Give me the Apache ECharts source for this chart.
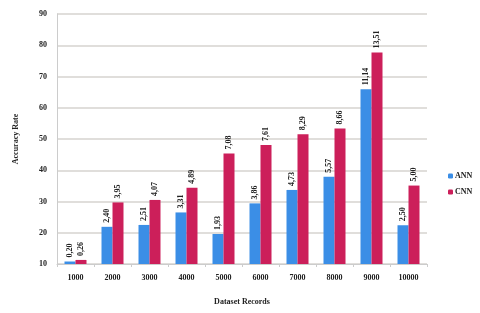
<!DOCTYPE html>
<html>
<head>
<meta charset="utf-8">
<script src="https://cdn.jsdelivr.net/npm/echarts@6/dist/echarts.min.js"></script>
<style>html,body{margin:0;padding:0;background:#fff}#c{width:480px;height:313px}</style>
</head>
<body>
<div id="c"></div>
<script>
const categories = ['1000','2000','3000','4000','5000','6000','7000','8000','9000','10000'];
const annValues = [10.8, 21.9, 22.5, 26.5, 19.6, 29.4, 33.7, 37.9, 65.9, 22.4];
const cnnValues = [11.3, 29.7, 30.5, 34.4, 45.4, 48.1, 51.5, 53.4, 77.7, 35.1];
const annLabels = ['0,20','2,40','2,51','3,31','1,93','3,86','4,73','5,57','11,14','2,50'];
const cnnLabels = ['0,26','3,95','4,07','4,89','7,08','7,61','8,29','8,66','13,51','5,00'];

const chart = echarts.init(document.getElementById('c'));
const font = 'Liberation Serif';
function lbl(arr){
  return {show:true, position:'top', rotate:90, align:'left', verticalAlign:'middle', distance:4,
    fontFamily:font, fontSize:8, fontWeight:'bold', color:'#222', formatter:p=>arr[p.dataIndex]};
}
chart.setOption({
  animation:false,
  backgroundColor:'#fff',
  grid:{left:57,right:53,top:14,bottom:49},
  legend:{orient:'vertical',left:443,top:167,itemWidth:5,itemHeight:5,itemGap:8,
    textStyle:{fontFamily:font,fontSize:8,fontWeight:'bold',color:'#222',padding:[0,0,0,-3]},
    data:['ANN','CNN']},
  xAxis:{type:'category',data:categories,name:'Dataset Records',nameLocation:'middle',nameGap:34,
    nameTextStyle:{fontFamily:font,fontSize:8,fontWeight:'bold',color:'#222'},
    axisLine:{lineStyle:{color:'#ccc'}},axisTick:{show:true,length:3,lineStyle:{color:'#ccc'}},
    axisLabel:{fontFamily:font,fontSize:8,fontWeight:'bold',color:'#222',margin:10}},
  yAxis:{type:'value',min:10,max:90,interval:10,name:'Accuracy Rate',nameLocation:'middle',nameGap:37,
    nameTextStyle:{fontFamily:font,fontSize:8,fontWeight:'bold',color:'#222'},
    axisLine:{show:true,lineStyle:{color:'#ccc'}},
    splitLine:{lineStyle:{color:'#d6d3cf',width:1.5}},
    axisLabel:{fontFamily:font,fontSize:8,fontWeight:'bold',color:'#222',margin:10}},
  series:[
    {name:'ANN',type:'bar',data:annValues,itemStyle:{color:'#3b8ee6'},barWidth:11,barGap:'0%',label:lbl(annLabels)},
    {name:'CNN',type:'bar',data:cnnValues,itemStyle:{color:'#cc1f5a'},barWidth:11,label:lbl(cnnLabels)}
  ]
});
</script>
</body>
</html>
